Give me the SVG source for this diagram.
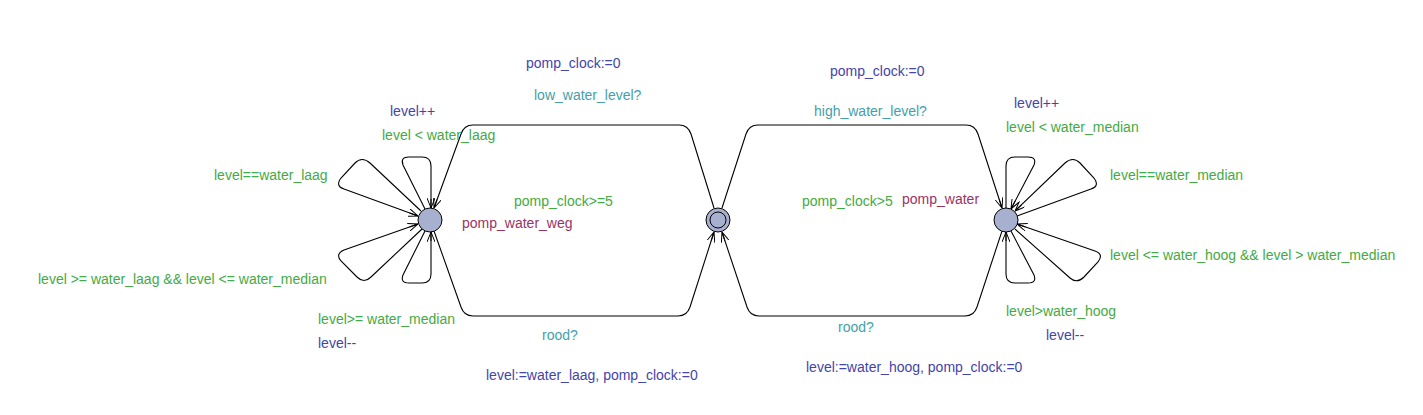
<svg xmlns="http://www.w3.org/2000/svg" width="1423" height="415" viewBox="0 0 1423 415">
<style>
text{font-family:"Liberation Sans",Arial,sans-serif;font-size:14px}
.a{fill:#4444aa}.s{fill:#44a0aa}.g{fill:#44aa44}.i{fill:#993366}
.e{fill:none;stroke:#000;stroke-width:1.1}
.n{fill:#a8b0d0;stroke:#000;stroke-width:1}
</style>
<defs>
<marker id="ar" viewBox="0 0 10 8" refX="10" refY="4" markerWidth="10" markerHeight="8" markerUnits="userSpaceOnUse" orient="auto">
<path d="M0,0 L10,4 L0,8 M10,4 L1,4" fill="none" stroke="#000" stroke-width="1"/>
</marker>
</defs>
<rect width="1423" height="415" fill="#fff"/>
<g id="edges">
<path class="e" marker-end="url(#ar)" d="M714,208 L691,134 Q688,125 679,125 L473,125 Q464,125 461,134 L434,208"/>
<path class="e" marker-end="url(#ar)" d="M434,231 L461,307 Q464,316 473,316 L678,316 Q687,316 690,307 L714,232"/>
<path class="e" marker-end="url(#ar)" d="M722,208 L746,134 Q749,125 758,125 L966,125 Q975,125 978,134 L1002,208"/>
<path class="e" marker-end="url(#ar)" d="M1002,231 L977,307 Q974,316 965,316 L759,316 Q750,316 747,307 L722,232"/>
<path class="e" marker-end="url(#ar)" d="M425,209 L403,165 Q400,157 409,157 L422,157 Q431,157 431,166 L431,208"/>
<path class="e" marker-end="url(#ar)" d="M421,211 L370,163 Q362,156 355,163 L341,178 Q335,186 344,189 L418,216"/>
<path class="e" marker-end="url(#ar)" d="M422,229 L371,277 Q364,284 357,277 L341,261 Q335,254 344,250 L418,224"/>
<path class="e" marker-end="url(#ar)" d="M425,231 L403,275 Q400,283 409,283 L422,283 Q431,283 431,274 L431,232"/>
<path class="e" marker-end="url(#ar)" d="M1006,208 L1006,166 Q1006,157 1015,157 L1028,157 Q1037,157 1034,165 L1011,209"/>
<path class="e" marker-end="url(#ar)" d="M1017,216 L1091,189 Q1100,186 1094,178 L1080,163 Q1073,156 1065,163 L1015,211"/>
<path class="e" marker-end="url(#ar)" d="M1015,229 L1070,278 Q1077,284 1084,277 L1098,262 Q1104,254 1095,251 L1017,224"/>
<path class="e" marker-end="url(#ar)" d="M1011,231 L1034,275 Q1037,283 1028,283 L1015,283 Q1006,283 1006,274 L1006,232"/>
</g>
<g id="nodeL"><circle class="n" cx="430" cy="220" r="12"/></g>
<g id="nodeC"><circle class="n" cx="718" cy="220" r="12"/><circle fill="none" stroke="#000" stroke-width="1" cx="718" cy="220" r="8"/></g>
<g id="nodeR"><circle class="n" cx="1006" cy="220" r="12"/></g>
<g id="labels">
<text class="a" x="526" y="68">pomp_clock:=0</text>
<text class="s" x="534" y="100">low_water_level?</text>
<text class="a" x="390" y="116">level++</text>
<text class="g" x="382" y="140">level &lt; water_laag</text>
<text class="g" x="214" y="180">level==water_laag</text>
<text class="g" x="514" y="206">pomp_clock&gt;=5</text>
<text class="i" x="462" y="228">pomp_water_weg</text>
<text class="g" x="38" y="284">level &gt;= water_laag &amp;&amp; level &lt;= water_median</text>
<text class="g" x="318" y="324">level&gt;= water_median</text>
<text class="a" x="318" y="348">level--</text>
<text class="s" x="542" y="340">rood?</text>
<text class="a" x="486" y="380">level:=water_laag, pomp_clock:=0</text>
<text class="a" x="830" y="76">pomp_clock:=0</text>
<text class="s" x="814" y="116">high_water_level?</text>
<text class="a" x="1014" y="108">level++</text>
<text class="g" x="1006" y="132">level &lt; water_median</text>
<text class="g" x="1110" y="180">level==water_median</text>
<text class="g" x="802" y="206">pomp_clock&gt;5</text>
<text class="i" x="902" y="204">pomp_water</text>
<text class="g" x="1110" y="260">level &lt;= water_hoog &amp;&amp; level &gt; water_median</text>
<text class="g" x="1006" y="316">level&gt;water_hoog</text>
<text class="a" x="1046" y="340">level--</text>
<text class="s" x="838" y="332">rood?</text>
<text class="a" x="806" y="372">level:=water_hoog, pomp_clock:=0</text>
</g>
</svg>
